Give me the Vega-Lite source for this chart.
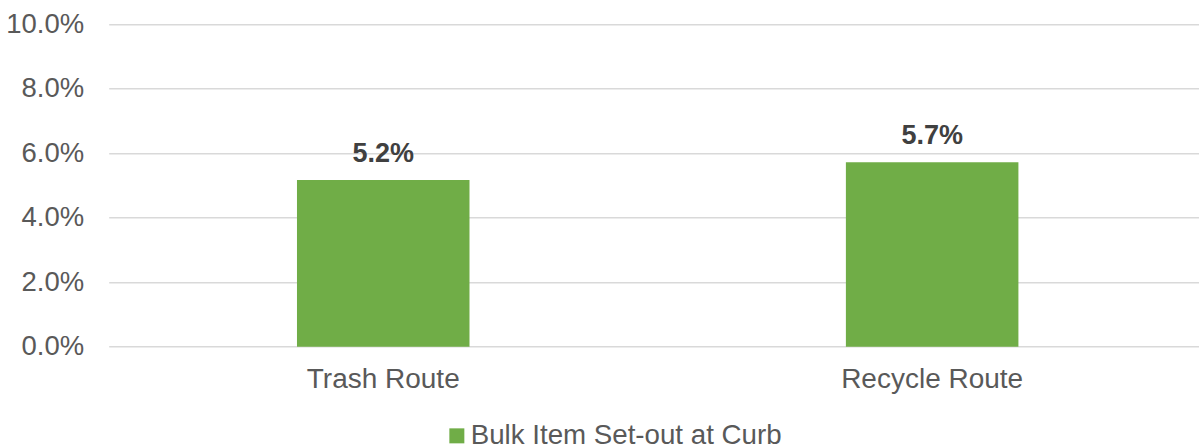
{
  "$schema": "https://vega.github.io/schema/vega-lite/v6.json",
  "autosize": "none",
  "width": 1098,
  "height": 322.4,
  "padding": {"left": 108.7, "top": 24.3, "right": 0, "bottom": 100.3},
  "background": "white",
  "config": {
    "view": {"stroke": null},
    "font": "Liberation Sans"
  },
  "data": {
    "values": [
      {"route": "Trash Route", "series": "Bulk Item Set-out at Curb", "value": 0.0517},
      {"route": "Recycle Route", "series": "Bulk Item Set-out at Curb", "value": 0.0572}
    ]
  },
  "encoding": {
    "x": {
      "field": "route", "type": "nominal", "sort": null,
      "scale": {"paddingInner": 0.6857, "paddingOuter": 0.343},
      "axis": {
        "title": null, "labelAngle": 0, "ticks": false, "domain": false,
        "labelFont": "Liberation Sans", "labelFontSize": 28, "labelColor": "#595959",
        "labelPadding": 19, "labelLimit": 1000
      }
    },
    "y": {
      "field": "value", "type": "quantitative",
      "scale": {"domain": [0, 0.1], "nice": false},
      "axis": {
        "title": null, "format": ".1%", "values": [0, 0.02, 0.04, 0.06, 0.08, 0.1],
        "ticks": false, "domain": false, "grid": true, "gridColor": "#d9d9d9", "gridWidth": 1.5,
        "labelFont": "Liberation Sans", "labelFontSize": 27.5, "labelColor": "#595959",
        "labelPadding": 25
      }
    }
  },
  "layer": [
    {
      "mark": {"type": "bar", "color": "#70ad47"},
      "encoding": {
        "color": {
          "field": "series", "type": "nominal",
          "scale": {"range": ["#70ad47"]},
          "legend": {
            "title": null, "orient": "none", "legendX": 334.3, "legendY": 397.7,
            "symbolType": "square", "symbolSize": 225, "symbolStrokeWidth": 0,
            "symbolOpacity": 1, "symbolFillColor": "#70ad47",
            "labelFont": "Liberation Sans", "labelFontSize": 27.7, "labelColor": "#595959",
            "labelOffset": 0, "labelLimit": 1000, "padding": 0
          }
        }
      }
    },
    {
      "mark": {
        "type": "text", "baseline": "alphabetic", "dy": -18,
        "font": "Liberation Sans", "fontSize": 27, "fontWeight": "bold", "color": "#404040"
      },
      "encoding": {
        "text": {"field": "value", "type": "quantitative", "format": ".1%"}
      }
    }
  ]
}
